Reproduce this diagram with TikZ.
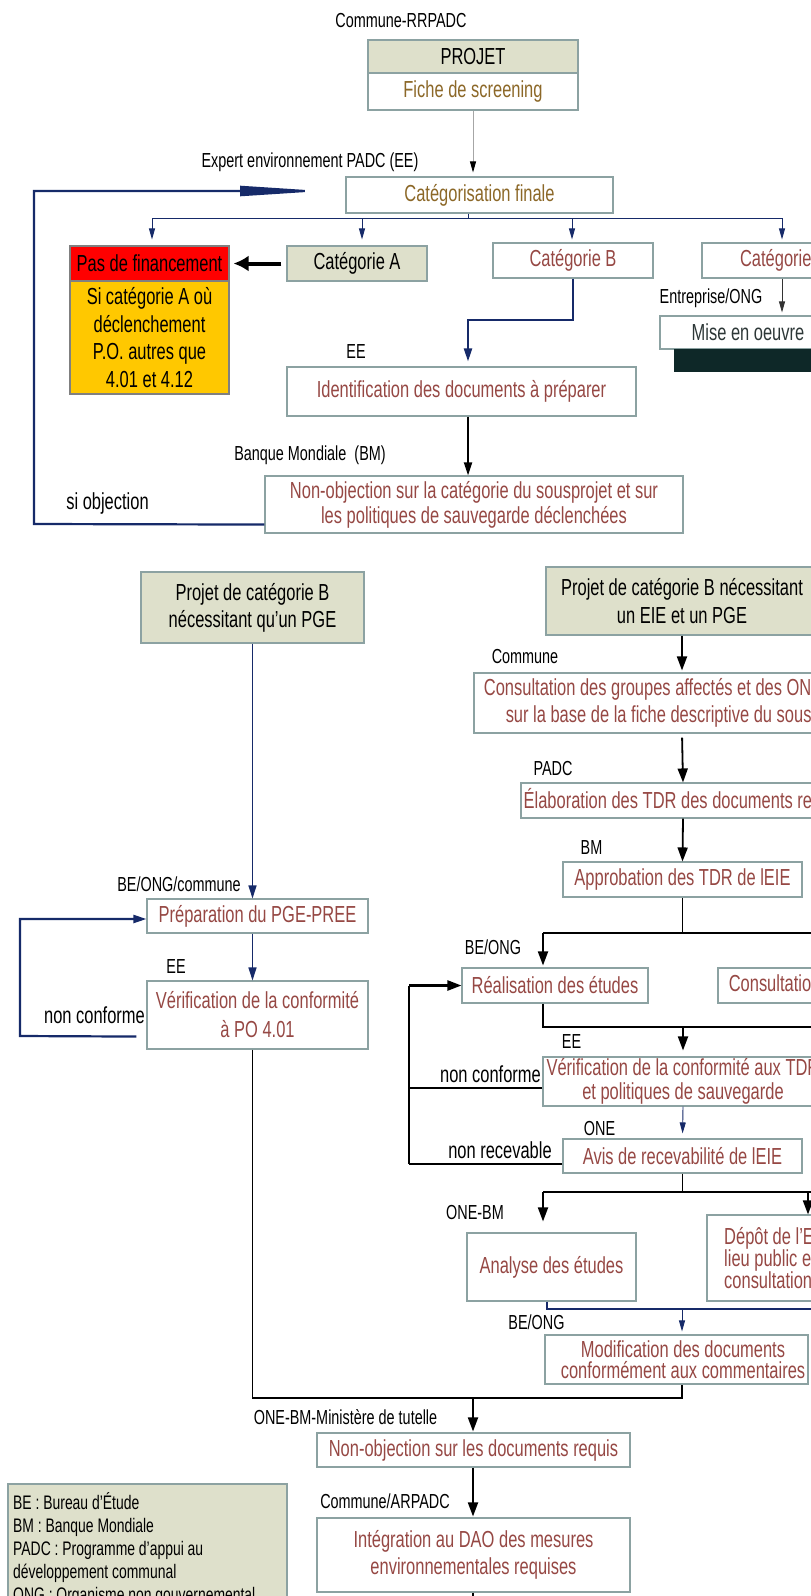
\documentclass[tikz,border=0pt]{standalone}
\usepackage{fontspec}
\setmainfont{Liberation Sans}[FakeStretch=0.71]
\usetikzlibrary{arrows.meta}
\definecolor{boxolive}{RGB}{222,224,203}
\definecolor{boxline}{RGB}{140,162,162}
\definecolor{boxtxt}{RGB}{150,72,68}
\definecolor{goldtxt}{RGB}{140,104,40}
\definecolor{navy}{RGB}{22,42,105}
\definecolor{yel}{RGB}{255,200,0}
\definecolor{darkbar}{RGB}{14,40,40}
\definecolor{misetxt}{RGB}{45,55,55}
\newcommand\myboxfont{\fontsize{23.2}{26.5}\selectfont}
\newcommand\mylabelfont{\fontsize{20.3}{22}\selectfont}
\newcommand\mylegfont{\fontsize{19.6}{23}\selectfont}
\begin{document}
\begin{tikzpicture}[x=1pt,y=-1pt,
 box/.style={draw=boxline, line width=1.1pt, fill=white, inner sep=0pt, align=center, text=boxtxt, font=\myboxfont},
 lbl/.style={inner sep=0pt, font=\mylabelfont, text=black},
 biglbl/.style={inner sep=0pt, font=\myboxfont, text=black},
 navythin/.style={draw=navy, line width=0.9pt},
 navymid/.style={draw=navy, line width=1.5pt},
 navythick/.style={draw=navy, line width=2.2pt},
 blk/.style={draw=black, line width=1.8pt},
 blkthick/.style={draw=black, line width=2.4pt},
 stip/.style={-{Triangle[length=11pt,width=6pt]}},
 mtip/.style={-{Triangle[length=13pt,width=8pt]}},
 btip/.style={-{Triangle[length=14pt,width=10pt]}}
]
\useasboundingbox (0,0) rectangle (811,1596);
\clip (0,0) rectangle (811,1596);
\fill[white] (0,0) rectangle (811,1596);

% ---------- top part ----------
\node[lbl] (lcomm) at (401,21) {Commune-RRPADC};
\node[box, fill=boxolive, text=black, minimum width=210pt, minimum height=33pt] (proj) at (473,56.5) {PROJET};
\node[box, text=goldtxt, minimum width=210pt, minimum height=37pt] (fiche) at (473,91.5) {Fiche de screening};
\node[lbl] (lexp) at (310,162) {Expert environnement PADC (EE)};
\node[box, text=goldtxt, minimum width=267pt, minimum height=36pt] (cat) at (479.5,195) {Catégorisation finale};

\node[box, fill=red, draw=gray, text=black, minimum width=159pt, minimum height=35pt] (pasf) at (149.5,263.5) {Pas de financement};
\node[box, fill=yel, draw=gray, text=black, minimum width=159pt, minimum height=113pt, font=\fontsize{23.2}{27.7}\selectfont] (sicat) at (149.5,337.5) {Si catégorie A où\\déclenchement\\P.O. autres que\\4.01 et 4.12};
\node[box, fill=boxolive, text=black, minimum width=140pt, minimum height=35pt] (catA) at (357,263.5) {Catégorie A};
\node[box, minimum width=160pt, minimum height=35pt] (catB) at (573,260.5) {Catégorie B};
\node[box, minimum width=164pt, minimum height=35pt] (catC) at (784,260.5) {Catégorie C};
\node[lbl] (lentr) at (711,298) {Entreprise/ONG};
\node[box, text=misetxt, minimum width=176pt, minimum height=33pt] (mise) at (748,332.5) {Mise en oeuvre};
\node[fill=darkbar, inner sep=0pt, minimum width=176pt, minimum height=23pt] (bar) at (762,360.5) {};

\node[lbl] (lee1) at (356,352) {EE};
\node[box, minimum width=349pt, minimum height=49pt] (ident) at (461.5,391.5) {Identification des documents à préparer};
\node[lbl] (lbm) at (310,455) {Banque Mondiale~~(BM)};
\node[box, minimum width=418pt, minimum height=57pt, font=\fontsize{23.2}{25}\selectfont] (nonobj) at (474,504.5) {Non-objection sur la catégorie du sousprojet et sur\\les politiques de sauvegarde déclenchées};
\node[biglbl] (lsiobj) at (107.5,503) {si objection};

% connectors top
\draw[draw=gray!70, line width=0.8pt, -{Triangle[length=11pt,width=6pt,color=black]}, shorten >=4pt] (fiche.south) -- (fiche.south |- cat.north);
\coordinate (br) at (468,218);
\coordinate (brL) at (152,218);
\coordinate (brR) at (782,218);
\coordinate (brA) at (362,218);
\coordinate (brB) at (572,218);
\draw[navythin] (br |- cat.south) -- (br);
\draw[navythin] (brL) -- (brR);
\draw[navythin, stip, shorten >=6pt] (brL) -- (brL |- pasf.north);
\draw[navythin, stip, shorten >=6pt] (brA) -- (brA |- catA.north);
\draw[navythin, stip, shorten >=3pt] (brB) -- (brB |- catB.north);
\draw[navythin, stip, shorten >=3pt] (brR) -- (brR |- catC.north);
\draw[black, line width=4pt, -{Latex[length=15pt,width=16pt]}, shorten <=5pt, shorten >=4pt] (catA.west) -- (pasf.east);
\draw[draw=black!80, line width=0.8pt, stip, shorten >=3pt] (catC.south -| brR) -- (brR |- mise.north);
\coordinate (bk1) at (573,320);
\coordinate (bk2) at (468,320);
\draw[navythick, mtip, shorten >=5pt] (catB.south) -- (bk1) -- (bk2) -- (bk2 |- ident.north);
\draw[blk, mtip] (ident.south -| bk2) -- (bk2 |- nonobj.north);
\coordinate (fb1) at (34,524);
\coordinate (fb2) at (34,191);
\coordinate (fb3) at (323,191);
\draw[navythick, -{Triangle[length=83pt,width=10pt]}] ([yshift=9pt]nonobj.south west) -- (fb1) -- (fb2) -- (fb3);

% ---------- left column (PGE) ----------
\node[box, fill=boxolive, text=black, minimum width=223pt, minimum height=71pt, font=\fontsize{23.2}{27}\selectfont] (pge) at (252.5,607.5) {Projet de catégorie B\\nécessitant qu'un PGE};
\node[lbl] (lbeoc) at (179,884) {BE/ONG/commune};
\node[box, minimum width=221pt, minimum height=34pt] (prep) at (257.5,916) {Préparation du PGE-PREE};
\node[lbl] (lee2) at (176,967) {EE};
\node[box, minimum width=221pt, minimum height=68pt, font=\fontsize{23.2}{29}\selectfont] (vpge) at (257.5,1015) {Vérification de la conformité\\à PO 4.01};
\node[biglbl] (lnc1) at (94.5,1015) {non conforme};

\draw[navymid, mtip] (pge.south) -- (pge.south |- prep.north);
\draw[navymid, mtip] (prep.south -| pge.south) -- (pge.south |- vpge.north);
\coordinate (lp1) at (20,1036);
\coordinate (lp2) at (20,919);
\draw[navythick, mtip] ([shift={(-10pt,13pt)}]vpge.south west) -- (lp1) -- (lp2) -- ([yshift=-3pt]prep.west);

% ---------- right column (EIE) ----------
\node[box, fill=boxolive, text=black, minimum width=272pt, minimum height=68pt, font=\fontsize{23.2}{28}\selectfont] (eie) at (682,601) {Projet de catégorie B nécessitant\\un EIE et un PGE};
\node[lbl] (lcom2) at (525,657) {Commune};
\node[box, minimum width=416pt, minimum height=60pt] (consult) at (682,703) {Consultation des groupes affectés et des ONG locales\\sur la base de la fiche descriptive du sous-projet};
\node[lbl] (lpadc) at (553,768) {PADC};
\node[box, minimum width=324pt, minimum height=35pt] (elab) at (683,800.5) {Élaboration des TDR des documents requis};
\node[lbl] (lbm2) at (591.5,848) {BM};
\node[box, minimum width=239pt, minimum height=35pt] (approb) at (682.5,879.5) {Approbation des TDR de lEIE};
\node[lbl] (lbeo1) at (493,947) {BE/ONG};
\node[box, minimum width=186pt, minimum height=35pt] (real) at (555,985.5) {Réalisation des études};
\node[box, minimum width=180pt, minimum height=35pt] (consr) at (808,985.5) {Consultation publique};
\node[lbl] (lee3) at (571.5,1042) {EE};
\node[box, minimum width=280pt, minimum height=49pt, font=\fontsize{23.2}{23.5}\selectfont] (verr) at (683,1081.5) {Vérification de la conformité aux TDR\\et politiques de sauvegarde};
\node[biglbl] (lnc2) at (490.5,1074) {non conforme};
\node[lbl] (lone) at (599.5,1128) {ONE};
\node[biglbl] (lnrec) at (500,1150) {non recevable};
\node[box, minimum width=239pt, minimum height=34pt] (avis) at (682.5,1156) {Avis de recevabilité de lEIE};
\node[lbl] (lonebm) at (475,1212) {ONE-BM};
\node[box, minimum width=169pt, minimum height=68pt] (analyse) at (551.5,1267) {Analyse des études};
\node[box, minimum width=200pt, minimum height=86pt] (depot) at (807,1258) {};
\node[inner sep=0pt, anchor=west, align=left, text=boxtxt, font=\fontsize{23.2}{22}\selectfont] (depott) at (724,1258) {Dépôt de l'EIE\\lieu public et\\consultation};
\node[lbl] (lbeo2) at (536.5,1322) {BE/ONG};
\node[box, minimum width=263pt, minimum height=49pt, font=\fontsize{23.2}{21.5}\selectfont] (modif) at (676.5,1359.5) {\hspace*{13pt}Modification des documents\\\hspace*{13pt}conformément aux commentaires};

\draw[blk, btip, shorten >=2pt] (eie.south) -- (consult.north);
\draw[blk, btip, shorten <=4pt] (consult.south) -- (elab.north);
\draw[blk, btip] (elab.south) -- (approb.north);
\coordinate (s1L) at (543,933);
\coordinate (s1R) at (830,933);
\draw[blk] (approb.south) -- (approb.south |- s1L);
\draw[blk] (s1L) -- (s1R);
\draw[blk, btip, shorten >=2pt] (s1L) -- (s1L |- real.north);
\coordinate (s2L) at (543,1027);
\coordinate (s2R) at (830,1027);
\coordinate (s2M) at (683,1027);
\draw[blk] (real.south -| s1L) -- (s2L) -- (s2R);
\draw[blk, btip, shorten >=6pt] (s2M) -- (s2M |- verr.north);
\draw[navythin, stip, shorten >=5pt] (verr.south) -- (avis.north);
\coordinate (lpT) at (409,985.5);
\coordinate (lpM) at (409,1088);
\coordinate (lpB) at (409,1164);
\draw[blkthick] (lpT) -- (lpB);
\draw[blkthick, btip] (lpT) -- (real.west);
\draw[blkthick] ([yshift=-6.5pt]verr.west) -- (lpM);
\draw[blkthick] ([yshift=-8pt]avis.west) -- (lpB);
\coordinate (s3L) at (543,1192);
\coordinate (s3R) at (830,1192);
\coordinate (s3D) at (808,1192);
\draw[blk] (avis.south) -- (avis.south |- s3L);
\draw[blk] (s3L) -- (s3R);
\draw[blk, btip, shorten >=11pt] (s3L) -- (s3L |- analyse.north);
\draw[blk, btip] (s3D) -- (s3D |- depot.north);
\coordinate (s4L) at (547,1309);
\coordinate (s4R) at (830,1309);
\coordinate (s4M) at (682,1309);
\draw[navymid] (analyse.south -| s4L) -- (s4L) -- (s4R);
\draw[navythin, stip, shorten >=3pt] (s4M) -- (s4M |- modif.north);

% ---------- bottom ----------
\coordinate (jn1) at (252.5,1398);
\coordinate (jn2) at (682,1398);
\coordinate (jn3) at (473,1398);
\draw[blk] (vpge.south -| pge.south) -- (jn1) -- (jn2) -- (jn2 |- modif.south);
\node[lbl] (lonebmm) at (345.5,1417) {ONE-BM-Ministère de tutelle};
\node[box, minimum width=313pt, minimum height=34pt] (nondoc) at (473.5,1450) {Non-objection sur les documents requis};
\draw[blk, btip, shorten >=1pt] (jn3) -- (jn3 |- nondoc.north);
\node[lbl] (lcarp) at (385,1501) {Commune/ARPADC};
\node[box, minimum width=313pt, minimum height=74pt, font=\fontsize{23.2}{27}\selectfont] (integ) at (473.5,1555) {Intégration au DAO des mesures\\environnementales requises};
\draw[blk, btip, shorten >=1pt] (nondoc.south -| jn3) -- (jn3 |- integ.north);
\coordinate (endc) at (473,1620);
\draw[blk] (integ.south -| jn3) -- (endc);

\node[draw=boxline, line width=1.1pt, fill=boxolive, inner sep=0pt, minimum width=279pt, minimum height=160pt] (leg) at (147.5,1564) {};
\node[inner sep=0pt, anchor=north west, align=left, font=\mylegfont, text=black] (legt) at (13,1492) {BE : Bureau d'Étude\\BM : Banque Mondiale\\PADC : Programme d'appui au\\développement communal\\ONG : Organisme non gouvernemental};
\end{tikzpicture}
\end{document}
